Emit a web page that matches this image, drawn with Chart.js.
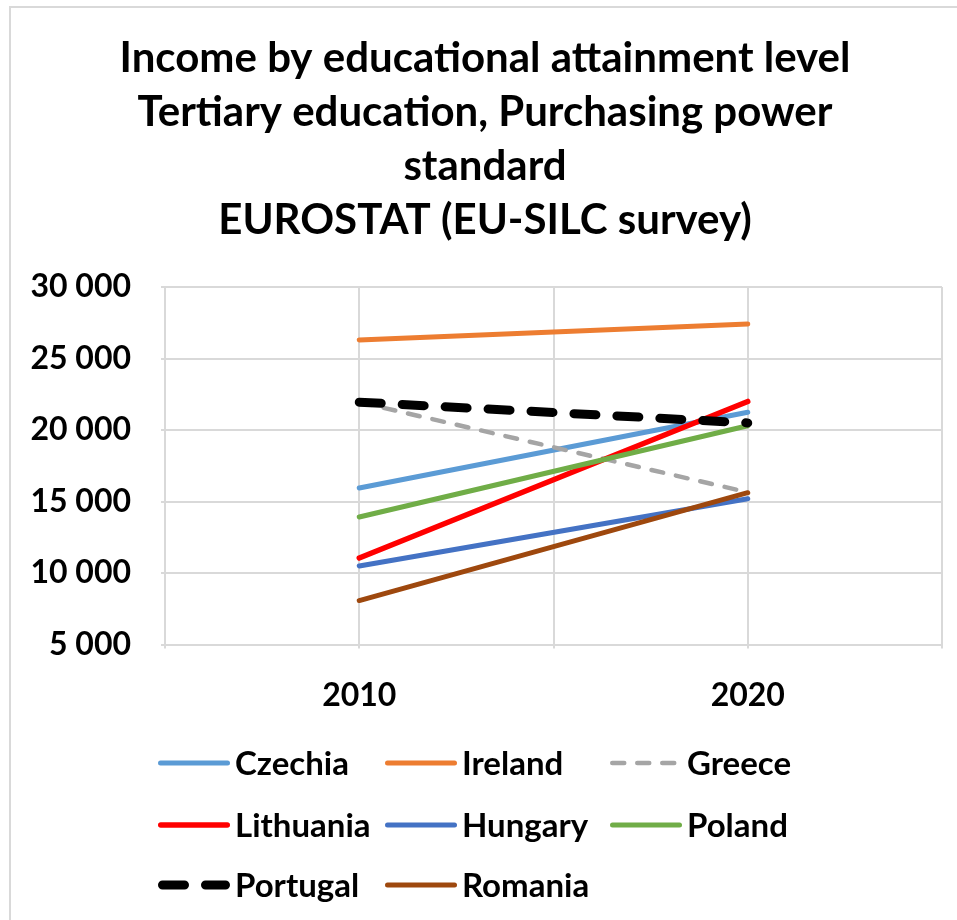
<!DOCTYPE html>
<html lang="en">
<head>
<meta charset="UTF-8">
<title>Income by educational attainment level</title>
<script src="https://cdn.jsdelivr.net/npm/chart.js"></script>
<style>
  body { margin: 0; background: #fff; }
  .chart-box { position: relative; width: 957px; height: 920px; }
</style>
</head>
<body>
<div class="chart-box"><canvas id="incomeChart"></canvas></div>
<script>
// Median income, tertiary education, PPS (EU-SILC)
const years = [2010, 2020];
const countries = ['Czechia', 'Ireland', 'Greece', 'Lithuania', 'Hungary', 'Poland', 'Portugal', 'Romania'];
const czechia   = [15950, 21250];
const ireland   = [26300, 27420];
const greece    = [21950, 15650];
const lithuania = [11050, 22000];
const hungary   = [10500, 15200];
const poland    = [13920, 20300];
const portugal  = [21950, 20500];
const romania   = [8080, 15620];
const seriesValues = [czechia, ireland, greece, lithuania, hungary, poland, portugal, romania];

// line styles per country
const lineColors = ['#5B9BD5', '#ED7D31', '#A5A5A5', '#FF0000', '#4472C4', '#70AD47', '#000000', '#9E480E'];
const lineWidths = [5, 5, 4.5, 5.5, 5, 5, 9, 5];
const lineDashes = [[], [], [12, 13], [], [], [], [22, 21], []];

const FONT = 'Lato, "Open Sans", sans-serif';
const GRID = '#d9d9d9';

function spaced(v) {
  return String(v).replace(/\B(?=(\d{3})+(?!\d))/g, ' ');
}

const datasets = countries.map((name, i) => ({
  label: name,
  data: years.map((yr, j) => ({ x: yr, y: seriesValues[i][j] })),
  borderColor: lineColors[i],
  backgroundColor: lineColors[i],
  borderWidth: lineWidths[i],
  borderDash: lineDashes[i],
  borderCapStyle: 'round',
  pointRadius: 0,
  fill: false,
  order: countries.length - i   // later series sit on top
}));

// outer frame of the chart (top and left edges)
const frame = {
  id: 'frame',
  beforeDraw(chart) {
    const ctx = chart.ctx;
    ctx.save();
    ctx.strokeStyle = GRID;
    ctx.lineWidth = 2;
    ctx.beginPath();
    ctx.moveTo(chart.width, 7);
    ctx.lineTo(10, 7);
    ctx.lineTo(10, chart.height);
    ctx.stroke();
    ctx.restore();
  }
};

// legend laid out as a three-column grid under the x axis
const gridLegend = {
  id: 'gridLegend',
  afterDraw(chart) {
    const ctx = chart.ctx;
    const colX = [158, 385, 610];
    const rowY = [763, 825, 885];
    const sample = 72;
    ctx.save();
    ctx.font = 'bold 33px ' + FONT;
    ctx.textBaseline = 'middle';
    ctx.fillStyle = '#000';
    chart.data.datasets.forEach((ds, i) => {
      const x = colX[i % 3];
      const y = rowY[Math.floor(i / 3)];
      const cap = ds.borderWidth / 2;
      ctx.strokeStyle = ds.borderColor;
      ctx.lineWidth = ds.borderWidth;
      ctx.lineCap = 'round';
      ctx.setLineDash(ds.borderDash);
      ctx.beginPath();
      ctx.moveTo(x + cap, y);
      ctx.lineTo(x + sample - cap, y);
      ctx.stroke();
      ctx.setLineDash([]);
      ctx.fillText(ds.label, x + sample + 5, y + 1);
    });
    ctx.restore();
  }
};

new Chart(document.getElementById('incomeChart'), {
  type: 'line',
  data: { datasets: datasets },
  plugins: [frame, gridLegend],
  options: {
    responsive: true,
    maintainAspectRatio: false,
    animation: false,
    layout: { padding: { left: 28, right: 15, top: 0, bottom: 177 } },
    plugins: {
      legend: { display: false },
      tooltip: { enabled: false },
      title: {
        display: true,
        text: ['Income by educational attainment level',
               'Tertiary education, Purchasing power',
               'standard',
               'EUROSTAT (EU-SILC survey)'],
        color: '#000',
        font: { family: FONT, size: 42, weight: 'bold', lineHeight: 1.286 },
        padding: { top: 31, bottom: 40 }
      }
    },
    scales: {
      x: {
        type: 'linear',
        min: 2005,
        max: 2025,
        grid: { color: GRID, lineWidth: 2, tickLength: 4 },
        border: { color: GRID, width: 2 },
        afterFit: scale => { scale.paddingLeft = 0; scale.paddingRight = 0; },
        ticks: {
          stepSize: 5,
          autoSkip: false,
          maxRotation: 0,
          padding: 28,
          color: '#000',
          font: { family: FONT, size: 32, weight: 'bold' },
          callback: v => years.includes(v) ? String(v) : ''
        }
      },
      y: {
        min: 5000,
        max: 30000,
        grid: { color: GRID, lineWidth: 2, tickLength: 4 },
        border: { color: GRID, width: 2 },
        afterFit: scale => { scale.width = 137; },
        ticks: {
          stepSize: 5000,
          padding: 30,
          color: '#000',
          font: { family: FONT, size: 32, weight: 'bold' },
          callback: v => spaced(v)
        }
      }
    }
  }
});
</script>
</body>
</html>
